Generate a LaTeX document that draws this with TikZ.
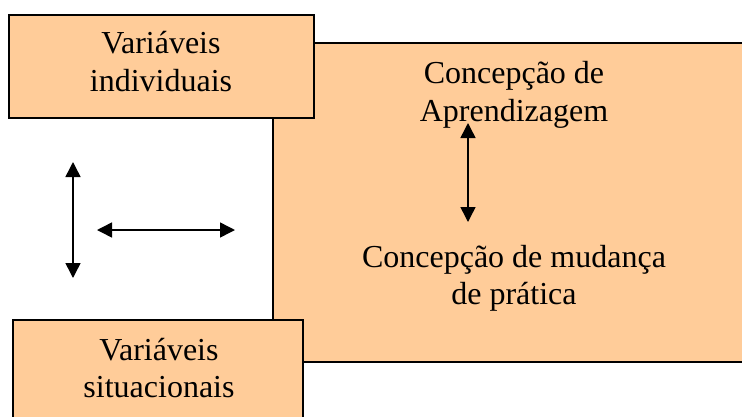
\documentclass[tikz,border=0pt]{standalone}
\usepackage{fontspec}
\setmainfont{Liberation Serif}
\usetikzlibrary{arrows.meta}
\definecolor{peach}{RGB}{255,204,153}
\begin{document}
\begin{tikzpicture}[x=1pt,y=-1pt,
  box/.style={draw=black,fill=peach,line width=1.6pt,anchor=north west,inner sep=0pt,outer sep=0pt},
  lbl/.style={anchor=base,inner sep=0pt,font=\fontsize{32}{38}\selectfont},
  dbl/.style={line width=1.5pt,{Triangle[length=15pt,width=15pt]}-{Triangle[length=15pt,width=15pt]}}]
\useasboundingbox (0,0) rectangle (742,416);
\clip (0,0) rectangle (742,416);
% boxes
\node[box,minimum width=487pt,minimum height=319pt] (bigbox) at (273,43) {};
\node[box,minimum width=305pt,minimum height=103pt] (indbox) at (9,15) {};
\node[box,minimum width=290pt,minimum height=110pt] (sitbox) at (13,320) {};
% labels
\node[lbl] (vi1) at (161,53) {Variáveis};
\node[lbl] (vi2) at (161,91) {individuais};
\node[lbl] (ca1) at (514,83) {Concepção de};
\node[lbl] (ca2) at (514,121) {Aprendizagem};
\node[lbl] (cm1) at (514,267) {Concepção de mudança};
\node[lbl] (cm2) at (514,304) {de prática};
\node[lbl] (vs1) at (159,360) {Variáveis};
\node[lbl] (vs2) at (159,397) {situacionais};
% arrows
\coordinate (a1) at (73,162); \coordinate (a2) at (73,278);
\coordinate (b1) at (97,230); \coordinate (b2) at (235,230);
\coordinate (c1) at (468,123); \coordinate (c2) at (468,222);
\draw[dbl] (a1) -- (a2);
\draw[dbl] (b1) -- (b2);
\draw[dbl] (c1) -- (c2);
\end{tikzpicture}
\end{document}
